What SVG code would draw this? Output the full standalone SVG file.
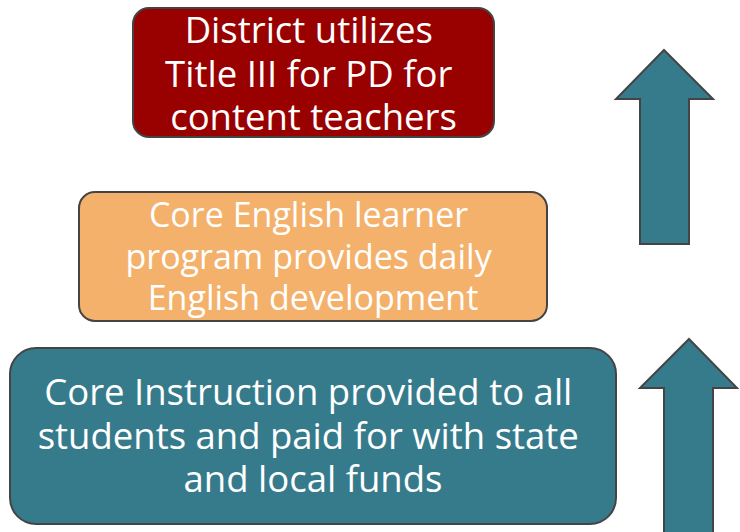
<svg xmlns="http://www.w3.org/2000/svg" width="740" height="532" viewBox="0 0 740 532">
  <style>
    .box { stroke: #444444; stroke-width: 2; }
    .label { font-family: "Open Sans", "Noto Sans", "Liberation Sans", sans-serif; fill: #ffffff; text-anchor: middle; }
    .arrow { fill: #367B8C; stroke: #444444; stroke-width: 2; stroke-linejoin: miter; }
  </style>
  <rect width="740" height="532" fill="#ffffff"/>

  <g id="title-iii">
    <rect class="box" x="133" y="8" width="361" height="129" rx="16" fill="#990000"/>
    <text class="label" font-size="36.5">
      <tspan x="313.5" y="43">District utilizes</tspan>
      <tspan x="313.5" y="86.5">Title III for PD for</tspan>
      <tspan x="313.5" y="130">content teachers</tspan>
    </text>
  </g>

  <g id="el-program">
    <rect class="box" x="79" y="192" width="468" height="129" rx="16" fill="#F4B16B"/>
    <text class="label" font-size="34">
      <tspan x="313" y="227">Core English learner</tspan>
      <tspan x="313" y="268.5">program provides daily</tspan>
      <tspan x="313" y="310">English development</tspan>
    </text>
  </g>

  <g id="core-instruction">
    <rect class="box" x="10" y="348" width="606" height="176" rx="26" fill="#367B8C"/>
    <text class="label" font-size="36.5">
      <tspan x="313" y="405">Core Instruction provided to all</tspan>
      <tspan x="313" y="448.5">students and paid for with state</tspan>
      <tspan x="313" y="492">and local funds</tspan>
    </text>
  </g>

  <g id="connectors">
    <polygon class="arrow" points="664,50 713,99 689,99 689,244 640,244 640,99 616,99"/>
    <polygon class="arrow" points="689,339 737,388 713,388 713,540 664,540 664,388 640,388"/>
  </g>
</svg>
